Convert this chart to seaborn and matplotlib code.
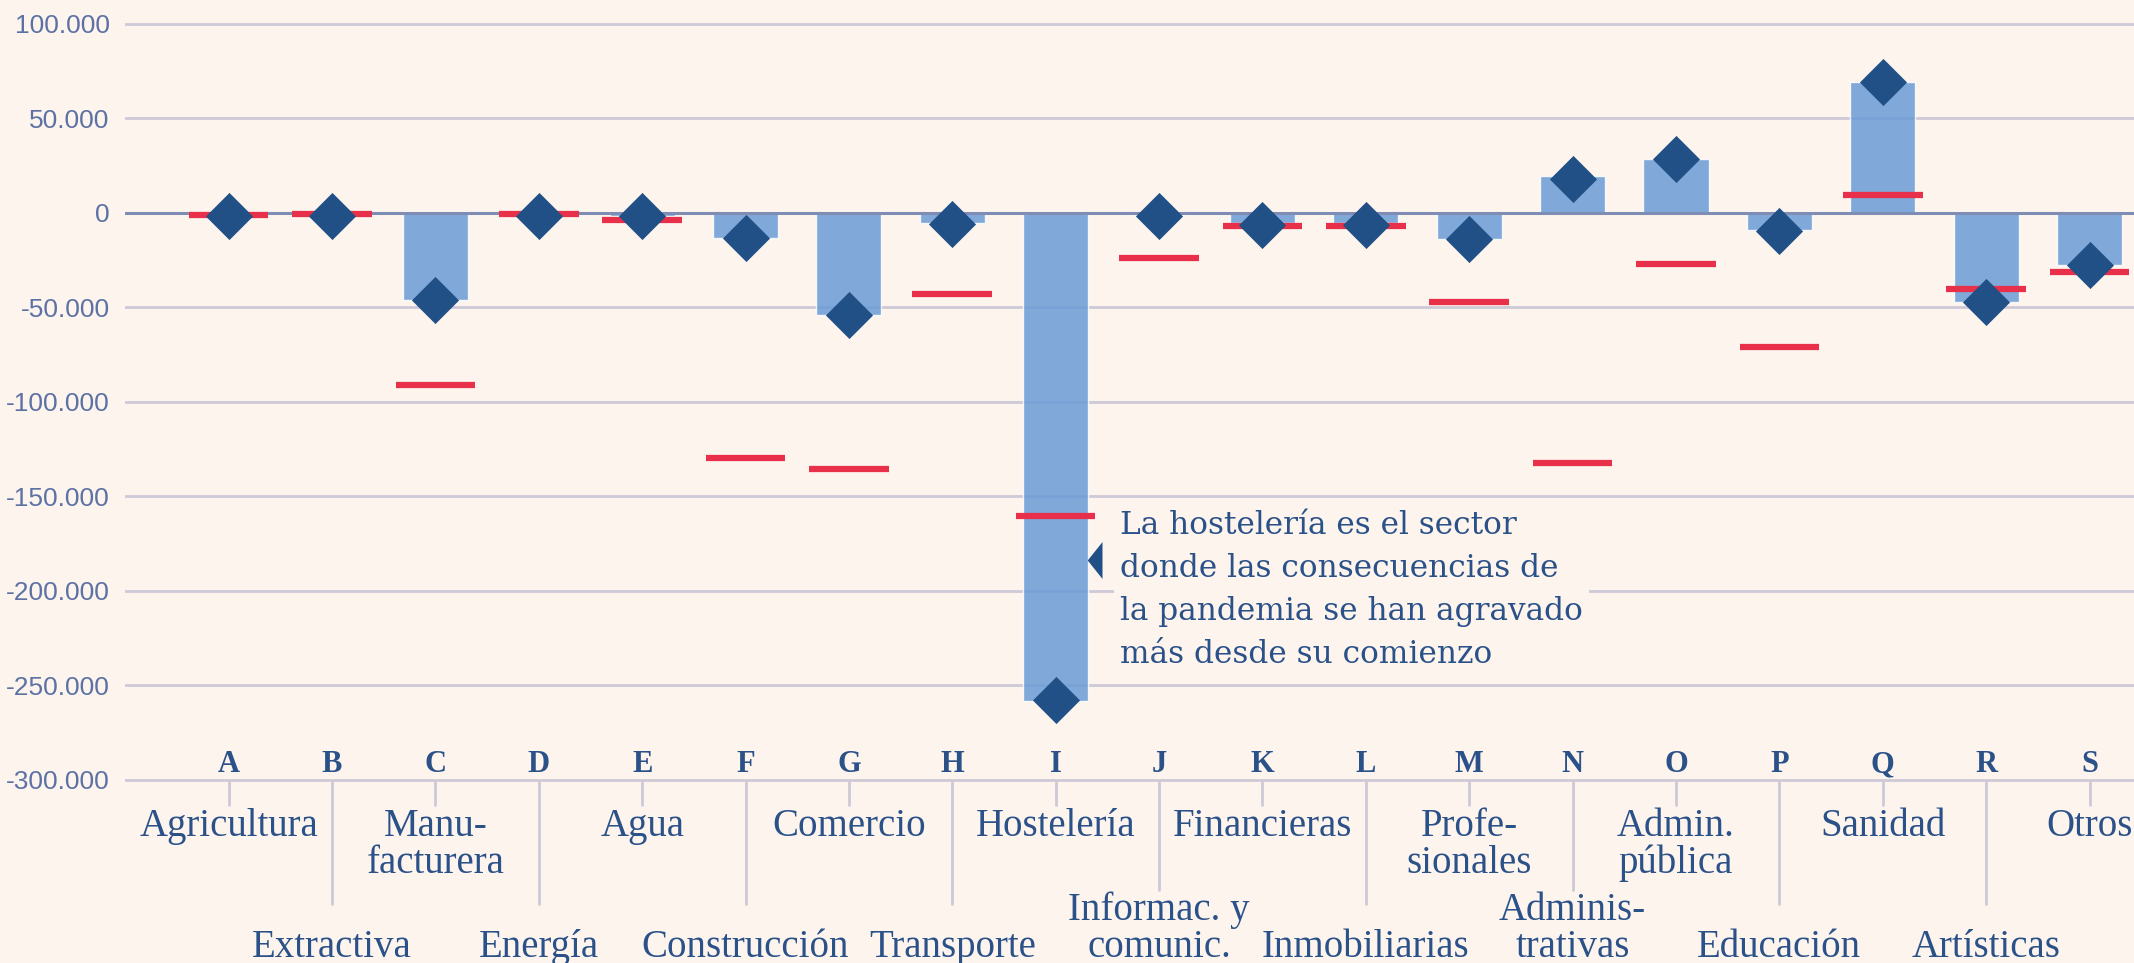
import matplotlib
matplotlib.use("Agg")
import matplotlib.pyplot as plt
import matplotlib.transforms as mtransforms
from matplotlib.ticker import FuncFormatter, MultipleLocator
import numpy as np
import pandas as pd
import seaborn as sns

# Sector codes and names (two-line names use "\n")
letters = list("ABCDEFGHIJKLMNOPQRS")
sectors = [
    "Agricultura", "Extractiva", "Manu-\nfacturera", "Energía", "Agua",
    "Construcción", "Comercio", "Transporte", "Hostelería", "Informac. y\ncomunic.",
    "Financieras", "Inmobiliarias", "Profe-\nsionales", "Adminis-\ntrativas",
    "Admin.\npública", "Educación", "Sanidad", "Artísticas", "Otros",
]

# Blue bars
bar_vals = [0, 0, -46000, 0, -2000, -13200, -54200, -5700, -258000, -1300,
            -5500, -5500, -13700, 19400, 28600, -9400, 69100, -47300, -27500]
# Dark diamonds
diamond_vals = [-1800, -1700, -46000, -1700, -1900, -13400, -54300, -6000, -257600, -1800,
                -6400, -6400, -13900, 18000, 28200, -9900, 68900, -47300, -27900]
# Red dashes
line_vals = [-1400, -900, -91000, -700, -3700, -129500, -135800, -43200, -160500, -23900,
             -7100, -7100, -47400, -132500, -27200, -71300, 9200, -40600, -31200]

note = ("La hostelería es el sector\ndonde las consecuencias de\n"
        "la pandemia se han agravado\nmás desde su comienzo")

BG = "#FDF4EE"
BAR = "#6A9BD6"
NAVY = "#215087"
RED = "#E8304A"
GRID = "#CDC9D7"
TEXT = "#2B5189"
TICKTXT = "#5D72A4"

W, H = 2134, 963
sns.set_theme(style="white")
plt.rcParams["font.family"] = ["Liberation Serif", "DejaVu Serif"]

fig = plt.figure(figsize=(W / 100, H / 100), dpi=100, facecolor=BG)
ax = fig.add_axes([125 / W, 1 - 782.8 / H, 1 - 125 / W, (782.8 - 20.7) / H])
ax.set_facecolor(BG)

df = pd.DataFrame({"code": letters, "bar": bar_vals, "diamond": diamond_vals, "line": line_vals})
pos = np.arange(len(letters))

sns.barplot(data=df, x="code", y="bar", color=BAR, alpha=0.85, width=0.63,
            saturation=1, ax=ax, zorder=2)
ax.axhline(0, color="#7F8CB3", lw=2.2, zorder=2.5)
ax.hlines(df["line"], pos - 0.385, pos + 0.385, color=RED, lw=4.5, zorder=3)
sns.scatterplot(data=df, x="code", y="diamond", marker="D", s=24 ** 2, color=NAVY,
                linewidth=0, ax=ax, zorder=4)

ax.set_xlim(-1.002, 18.43)
ax.set_ylim(-301500, 101500)
ax.yaxis.set_major_locator(MultipleLocator(50000))
ax.yaxis.set_major_formatter(FuncFormatter(lambda v, p: f"{v:,.0f}".replace(",", ".")))
ax.grid(axis="y", color=GRID, lw=2, zorder=0)
ax.set_axisbelow(True)
for s in ax.spines.values():
    s.set_visible(False)
ax.set_xlabel("")
ax.set_ylabel("")
ax.set_xticks([])
ax.tick_params(axis="y", length=0, pad=11, labelsize=19, labelcolor=TICKTXT)
for lab in ax.get_yticklabels():
    lab.set_fontfamily(["Liberation Sans Narrow", "Liberation Sans", "DejaVu Sans"])

# category letters, ticks and sector names below the plot
tr = mtransforms.blended_transform_factory(ax.transData, fig.transFigure)
for i, (code, name) in enumerate(zip(letters, sectors)):
    ax.text(i, 1 - 772 / H, code, transform=tr, ha="center", va="baseline",
            fontsize=22, fontweight="bold", color=TEXT)
    if i % 2 == 0:
        end = 805
        ax.text(i, 1 - 808 / H, name, transform=tr, ha="center", va="top",
                fontsize=28, color=TEXT, linespacing=1.0)
    else:
        end = 890 if "\n" in name else 904
        ax.text(i, -0.0035, name, transform=tr, ha="center", va="bottom",
                fontsize=28, color=TEXT, linespacing=1.0)
    ax.plot([i, i], [1 - 782 / H, 1 - end / H], transform=tr, color=GRID,
            lw=2, clip_on=False)

# annotation for hostelería
ax.plot(8.45, -183800, marker=[(0, 1), (-0.8, 0), (0, -1)], markersize=26.6,
        color=NAVY, markeredgewidth=0, zorder=5)
ax.text(8.62, -199300, note, ha="left", va="center", fontsize=22.5, color=TEXT,
        family="DejaVu Serif", linespacing=1.5, zorder=5,
        bbox=dict(boxstyle="square,pad=0.2", fc=BG, ec="none"))

fig.savefig("out.png", dpi=100, facecolor=BG)
